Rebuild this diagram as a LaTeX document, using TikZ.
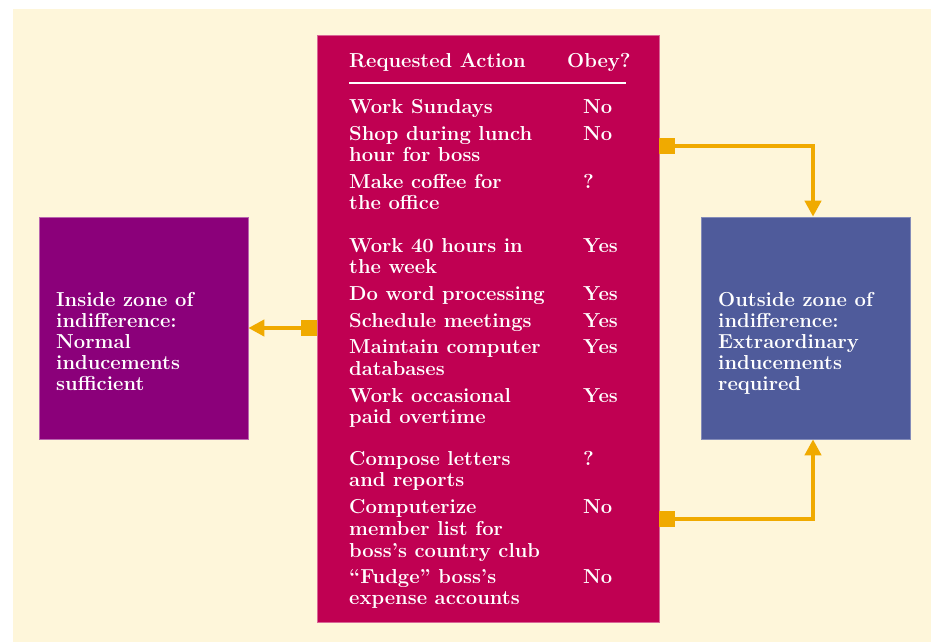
\documentclass[tikz,border=0pt]{standalone}
\usepackage{fontspec}
\usetikzlibrary{arrows.meta}
\definecolor{cream}{RGB}{254,246,218}
\definecolor{midcol}{RGB}{192,0,82}
\definecolor{incol}{RGB}{139,0,122}
\definecolor{outcol}{RGB}{79,91,155}
\definecolor{arrcol}{RGB}{240,170,0}
\tikzset{
  txt/.style={anchor=base west, inner sep=0pt, text=white,
    font=\fontsize{20.2}{21}\selectfont\bfseries},
  panel/.style={rectangle, inner sep=0pt, line width=0.6pt},
  sq/.style={rectangle, fill=arrcol, inner sep=0pt, minimum size=16pt},
  conn/.style={arrcol, line width=4pt, -{Triangle[width=16pt,length=16pt]}}
}
\begin{document}
\begin{tikzpicture}[x=1pt,y=-1pt]
\useasboundingbox (0,0) rectangle (931,642);
\fill[cream] (13,9) rectangle (931,642);
% panels
\node[panel, fill=midcol, draw=midcol!60!white, minimum width=342pt, minimum height=587pt] (mid) at (488,328.5) {};
\node[panel, fill=incol, draw=incol!60!white, minimum width=209pt, minimum height=222pt] (inside) at (143.5,328) {};
\node[panel, fill=outcol, draw=outcol!70!white, minimum width=209pt, minimum height=222pt] (outside) at (805.5,328) {};
% header
\node[txt] (hA) at (349,67) {Requested Action};
\node[txt] (hB) at (567,67) {Obey?};
\coordinate (rl) at (349,83);
\coordinate (rr) at (626,83);
\draw[white, line width=2.5pt] (rl) -- (rr);
% action column
\foreach \yy/\tt [count=\i] in {113/Work Sundays, 140/Shop during lunch, 161/hour for boss,
  188/Make coffee for, 209/the office, 252/Work 40 hours in, 273/the week,
  300/Do word processing, 327/Schedule meetings, 353/Maintain computer, 375/databases,
  402/Work occasional, 423/paid overtime, 465/Compose letters, 486/and reports,
  513/Computerize, 535/member list for, 557/boss’s country club,
  583/“Fudge” boss’s, 604/expense accounts}
  \node[txt] (act\i) at (349,\yy) {\tt};
% obey column
\foreach \yy/\tt [count=\i] in {113/No, 140/No, 188/?, 252/Yes, 300/Yes, 327/Yes,
  353/Yes, 402/Yes, 465/?, 513/No, 583/No}
  \node[txt] (ob\i) at (583,\yy) {\tt};
% side texts
\foreach \yy/\tt [count=\i] in {306/Inside zone of, 327/indifference:, 348/Normal,
  369/inducements, 390/sufficient}
  \node[txt] (in\i) at (56,\yy) {\tt};
\foreach \yy/\tt [count=\i] in {306/Outside zone of, 327/indifference:, 348/Extraordinary,
  369/inducements, 390/required}
  \node[txt] (out\i) at (718,\yy) {\tt};
% connectors
\node[sq] (sqL) at (309,328) {};
\node[sq] (sqT) at (667,146) {};
\node[sq] (sqB) at (667,519) {};
\draw[conn] (sqL.west) -- (inside.east);
\draw[conn] (sqT.east) -| ([xshift=7.5pt]outside.north);
\draw[conn] (sqB.east) -| ([xshift=7.5pt]outside.south);
\end{tikzpicture}
\end{document}
